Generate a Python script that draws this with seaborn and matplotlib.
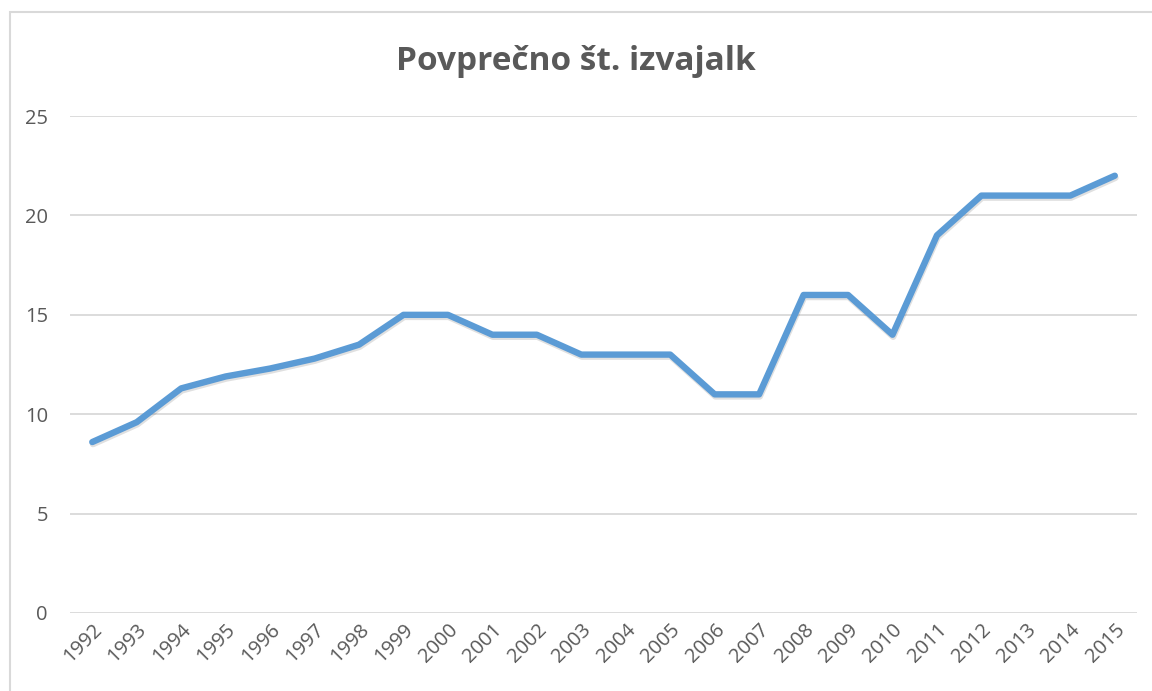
import matplotlib
matplotlib.use("Agg")
import matplotlib.pyplot as plt
import matplotlib.patheffects as pe
from matplotlib.patches import Rectangle
import pandas as pd
import seaborn as sns

years = [str(y) for y in range(1992, 2016)]
values = [8.6, 9.6, 11.3, 11.9, 12.3, 12.8, 13.5, 15, 15, 14, 14, 13, 13, 13,
          11, 11, 16, 16, 14, 19, 21, 21, 21, 22]
y_ticks = [0, 5, 10, 15, 20, 25]

df = pd.DataFrame({'Leto': years, 'Izvajalke': values})

sns.set_style('white')
plt.rcParams['font.family'] = ['Open Sans', 'DejaVu Sans']

fig = plt.figure(figsize=(11.52, 6.91), dpi=100)
ax = fig.add_axes([0.0608, 0.1129, 0.9262, 0.7191])

# chart border like Excel
fig.patches.append(Rectangle((10 / 1152, -0.01), 1.0, 1 - 12 / 691 + 0.01,
                             transform=fig.transFigure, fill=False,
                             edgecolor='#d9d9d9', linewidth=1.5))

sns.lineplot(data=df, x='Leto', y='Izvajalke', ax=ax, color='#5b9bd5',
             linewidth=4.6, sort=False, solid_capstyle='round',
             solid_joinstyle='round',
             path_effects=[pe.SimpleLineShadow(offset=(0.5, -1.5), shadow_color='#000000', alpha=0.12),
                           pe.Normal()])

ax.set_xlim(-0.5, len(years) - 0.5)
ax.set_ylim(0, 25)
ax.set_yticks(y_ticks)
ax.yaxis.grid(True, color='#d9d9d9', linewidth=1.3)
ax.set_axisbelow(True)
for s in ax.spines.values():
    s.set_visible(False)
ax.tick_params(axis='both', length=0, colors='#595959', labelsize=14.5)
ax.tick_params(axis='y', pad=16)
plt.setp(ax.get_xticklabels(), rotation=45, ha='right', rotation_mode='anchor')
ax.tick_params(axis='x', pad=5)
ax.set_xlabel('')
ax.set_ylabel('')

fig.text(0.5, 1 - 70 / 691, 'Povprečno št. izvajalk', ha='center', va='baseline',
         fontsize=24, fontweight='bold', color='#595959')

fig.savefig('out.png', dpi=100)
